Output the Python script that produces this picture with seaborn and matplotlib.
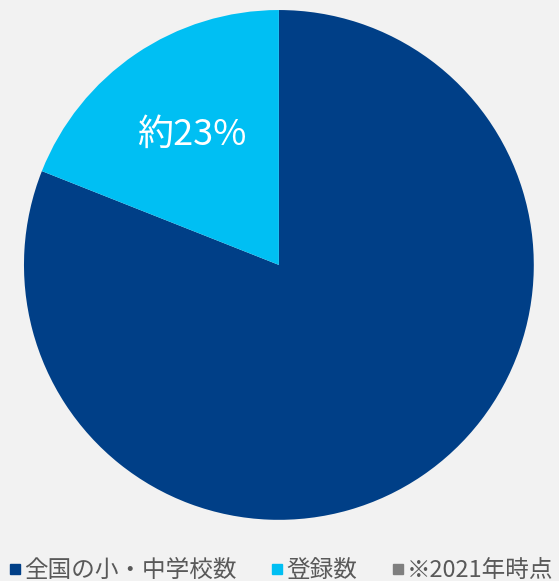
import matplotlib
matplotlib.use("Agg")
import matplotlib.pyplot as plt
import seaborn as sns
from matplotlib.lines import Line2D

sns.set_theme(style="white")
plt.rcParams['font.family'] = ['Noto Sans CJK JP', 'DejaVu Sans']

categories = ["全国の小・中学校数", "登録数"]
values = [81, 19]
colors = ["#003F87", "#00BFF3"]
note_label = "※2021年時点"
note_color = "#7F7F7F"
slice_label = "約23%"

bg = "#F2F2F2"
fig = plt.figure(figsize=(5.59, 5.81), dpi=100, facecolor=bg)
ax = fig.add_axes([0.0429, 0.105, 0.912, 0.878])
ax.set_facecolor(bg)
ax.pie(values, colors=sns.color_palette(colors), startangle=90, counterclock=False,
       radius=1, wedgeprops=dict(linewidth=0))
ax.set_xlim(-1, 1)
ax.set_ylim(-1, 1)
ax.set_aspect('equal')
ax.axis('off')

# label inside the light slice
ax.text(-0.34, 0.51, slice_label, color="white", fontsize=26, ha="center", va="center")

handles = [Line2D([], [], marker='s', linestyle='', markersize=7.5, color=c) for c in colors]
handles.append(Line2D([], [], marker='s', linestyle='', markersize=7.5, color=note_color))
labels = categories + [note_label]
leg = fig.legend(handles, labels, loc="lower center", bbox_to_anchor=(0.5, -0.03), ncol=3,
                 frameon=False, fontsize=17, handletextpad=0.0, columnspacing=1.3,
                 handlelength=0.8, borderaxespad=0.3)
for t in leg.get_texts():
    t.set_color("#595959")

fig.savefig("out.png", dpi=100, facecolor=bg)
